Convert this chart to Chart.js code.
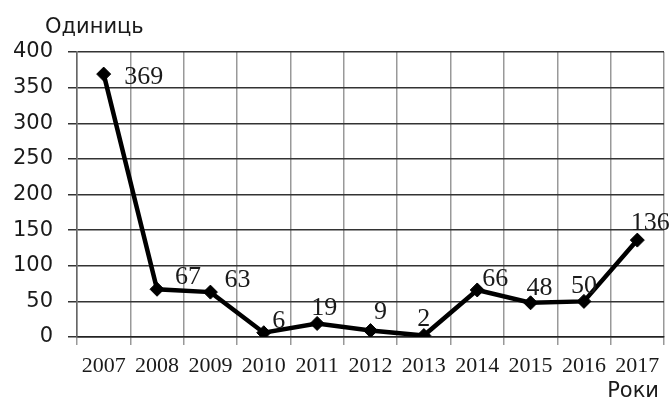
<!DOCTYPE html>
<html>
<head>
<meta charset="utf-8">
<script src="https://cdn.jsdelivr.net/npm/chart.js@4/dist/chart.umd.min.js"></script>
<style>
  html, body { margin: 0; padding: 0; background: #fff; }
</style>
</head>
<body>
<canvas id="chart" width="672" height="400"></canvas>
<script>
const years = ["2007", "2008", "2009", "2010", "2011", "2012", "2013", "2014", "2015", "2016", "2017"];
const units = [369, 67, 63, 6, 19, 9, 2, 66, 48, 50, 136];
const yTicks = [0, 50, 100, 150, 200, 250, 300, 350, 400];
const yTitle = "Одиниць";
const xTitle = "Роки";

// nudge of each value label from its point (centre of text)
const labelShift = [[40, 3], [31, -12], [27, -12], [15, -12], [7, -15], [10, -18],
                    [0, -16], [18, -11], [9, -15], [0, -15], [13, -17]];

const extras = {
  id: "extras",
  afterDatasetsDraw(chart) {
    const ctx = chart.ctx;
    const meta = chart.getDatasetMeta(0);
    ctx.save();
    ctx.fillStyle = "#1a1a1a";
    ctx.font = "26px 'Liberation Serif'";
    ctx.textAlign = "center";
    ctx.textBaseline = "middle";
    meta.data.forEach((pt, i) => {
      const [dx, dy] = labelShift[i];
      ctx.fillText(String(units[i]), pt.x + dx, pt.y + dy);
    });

    ctx.font = "21px 'DejaVu Sans'";
    ctx.textAlign = "left";
    ctx.textBaseline = "alphabetic";
    ctx.fillText(yTitle, 45, 33);
    ctx.textAlign = "right";
    ctx.fillText(xTitle, 659, 397);
    ctx.restore();
  }
};

new Chart(document.getElementById("chart"), {
  type: "line",
  data: {
    labels: years,
    datasets: [{
      data: units,
      borderColor: "#000",
      borderWidth: 4.5,
      tension: 0,
      pointStyle: "rectRot",
      pointRadius: 7,
      pointBackgroundColor: "#000",
      pointBorderColor: "#000",
      pointBorderWidth: 1
    }]
  },
  options: {
    responsive: false,
    animation: false,
    devicePixelRatio: 1,
    layout: { padding: { top: 52, right: 2, left: 0, bottom: 0 } },
    plugins: { legend: { display: false }, tooltip: { enabled: false } },
    scales: {
      x: {
        offset: true,
        grid: {
          offset: true,
          color: (c) => (c.index === years.length ? "#333" : "#999"),
          lineWidth: 1.5,
          tickLength: 8
        },
        border: { display: true, color: "#222", width: 1.5 },
        ticks: {
          color: "#1a1a1a",
          font: { family: "'Liberation Serif'", size: 22 },
          padding: 8,
          maxRotation: 0,
          autoSkip: false
        },
        afterFit: (s) => { s.height = 63; }
      },
      y: {
        min: 0,
        max: 400,
        afterBuildTicks: (s) => { s.ticks = yTicks.map((v) => ({ value: v })); },
        grid: { color: "#333", lineWidth: 1.5, tickLength: 9 },
        border: { display: true, color: "#666", width: 1.5 },
        ticks: {
          color: "#1a1a1a",
          font: { family: "'DejaVu Sans'", size: 21 },
          padding: 15
        },
        afterFit: (s) => { s.width = 77; }
      }
    }
  },
  plugins: [extras]
});
</script>
</body>
</html>
